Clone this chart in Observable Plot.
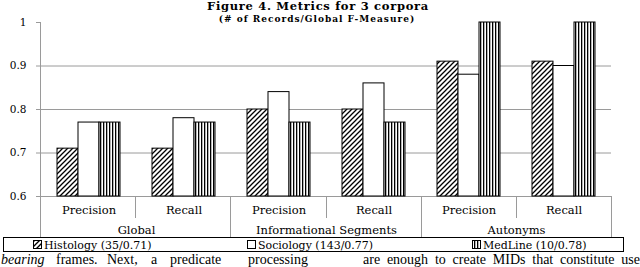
<!DOCTYPE html>
<html><head><meta charset="utf-8">
<script src="https://cdn.jsdelivr.net/npm/d3@7"></script>
<script src="https://cdn.jsdelivr.net/npm/@observablehq/plot@0.6"></script>
<style>body{margin:0;background:#fff} svg{display:block}</style>
</head><body><div id="chart"></div>
<script>
// ---- data ----
const groups = ["Global","Global","Informational Segments","Informational Segments","Autonyms","Autonyms"];
const metrics = ["Precision","Recall","Precision","Recall","Precision","Recall"];
const series = ["Histology","Sociology","MedLine"];
const seriesLabels = ["Histology (35/0.71)","Sociology (143/0.77)","MedLine (10/0.78)"];
const histology = [0.71,0.71,0.80,0.80,0.91,0.91];
const sociology = [0.77,0.78,0.84,0.86,0.88,0.90];
const medline   = [0.77,0.77,0.77,0.77,1.00,1.00];
const yDomain = [0.6, 1];
const yTicks = [0.6,0.7,0.8,0.9,1];
const title = "Figure 4. Metrics for 3 corpora";
const subtitle = "(# of Records/Global F-Measure)";
const pageWordsLeft = ["bearing","frames.","Next,","a","predicate","processing"];
const pageTextRight = "are enough to create MIDs that constitute use";

// ---- build table ----
const keys = groups.map((g,i)=>g+"|"+metrics[i]);
const valuesBySeries = {Histology: histology, Sociology: sociology, MedLine: medline};
const data = keys.flatMap((k,i)=>series.map(s=>({key:k, group:groups[i], metric:metrics[i], series:s, value:valuesBySeries[s][i]})));
const cats = keys.map((k,i)=>({key:k, group:groups[i], metric:metrics[i]}));
const groupCats = cats.filter(d=>d.metric==="Precision");

const W=640, H=267;
const serif = "DejaVu Serif";
const grid = "#9a9a9a";

const chart = Plot.plot({
  width: W, height: H,
  marginLeft: 40, marginRight: 29, marginTop: 22, marginBottom: 71,
  style: {fontFamily: serif, fontSize: "10.5px", background: "white", overflow: "visible"},
  fx: {domain: keys, padding: 0, axis: null, label: null},
  x: {domain: series, paddingInner: 0, paddingOuter: 0.73, axis: null, label: null},
  y: {domain: yDomain, ticks: yTicks, tickFormat: d => d === 1 ? "1" : d.toFixed(1), tickSize: 5, tickPadding: 10, label: null},
  color: {domain: series, range: ["url(#hatchDiag)", "white", "url(#hatchVert)"]},
  marks: [
    Plot.ruleY(yTicks.filter(t => t < yDomain[1]), {stroke: grid, strokeWidth: 1}),
    Plot.barY(data, {fx: "key", x: "series", y1: yDomain[0], y2: "value", fill: "series", stroke: "black", strokeWidth: 1}),
    Plot.text(cats, {fx: "key", text: "metric", frameAnchor: "bottom", lineAnchor: "middle", dy: 14, fontSize: 11.5, fill: "black"}),
    Plot.text(groupCats, {fx: "key", text: "group", frameAnchor: "bottom-right", textAnchor: "middle", lineAnchor: "middle", dy: 34, fontSize: 11.5, fill: "black"})
  ]
});

document.getElementById("chart").appendChild(chart);

const svg = d3.select(chart);
// patterns
const defs = svg.insert("defs", ":first-child");
const pd = defs.append("pattern").attr("id","hatchDiag").attr("patternUnits","userSpaceOnUse").attr("width",5).attr("height",5);
pd.append("rect").attr("width",5).attr("height",5).attr("fill","white");
pd.append("path").attr("d","M-1,1L1,-1M0,5L5,0M4,6L6,4").attr("stroke","black").attr("stroke-width",1.3);
const pv = defs.append("pattern").attr("id","hatchVert").attr("patternUnits","userSpaceOnUse").attr("width",3).attr("height",3);
pv.append("rect").attr("width",3).attr("height",3).attr("fill","white");
pv.append("rect").attr("x",0).attr("width",1.3).attr("height",3).attr("fill","black");

// axis tick color
svg.selectAll("[aria-label='y-axis tick'] path, [aria-label='y-axis tick']").attr("stroke", grid);

// table-like separators from the fx / y scales
const fxs = chart.scale("fx");
const fx = d3.scaleBand(fxs.domain, fxs.range).paddingInner(fxs.paddingInner ?? 0).paddingOuter(fxs.paddingOuter ?? 0).align(fxs.align ?? 0.5);
const ys = chart.scale("y");
const y = d3.scaleLinear(ys.domain, ys.range);
const base = y(yDomain[0]);
const bottomLine = 237.5;
const sep = svg.append("g").attr("stroke", grid).attr("stroke-width", 1);
const x0 = Math.round(Math.min(...fxs.range)) + 0.5;
sep.append("line").attr("x1", x0).attr("x2", x0).attr("y1", y(yDomain[1])).attr("y2", bottomLine);
keys.forEach((k,i)=>{
  const xr = Math.round(fx(k) + fx.bandwidth()) + 0.5;
  const isGroupEnd = i === keys.length-1 || groups[i+1] !== groups[i];
  sep.append("line").attr("x1", xr).attr("x2", xr).attr("y1", base).attr("y2", isGroupEnd ? bottomLine : 218);
});

// title
svg.append("text").attr("x", 318).attr("y", 10).attr("text-anchor","middle")
  .attr("font-family", serif).attr("font-weight","bold").attr("font-size", 11.5).attr("letter-spacing", 0.7).attr("fill","black").text(title);
svg.append("text").attr("x", 317).attr("y", 22).attr("text-anchor","middle")
  .attr("font-family", serif).attr("font-weight","bold").attr("font-size", 9).attr("letter-spacing", 1).attr("fill","black").text(subtitle);

// legend box
const lg = svg.append("g").attr("text-anchor","start");
lg.append("rect").attr("x", 3.5).attr("y", 237.5).attr("width", 620).attr("height", 14).attr("fill","white").attr("stroke","black");
const legendX = [33, 247, 472];
const swFill = ["url(#hatchDiag)", "white", "url(#hatchVert)"];
series.forEach((s,i)=>{
  lg.append("rect").attr("x", legendX[i]+0.5).attr("y", 240.5).attr("width", 8).attr("height", 8).attr("fill", swFill[i]).attr("stroke","black");
  lg.append("text").attr("x", legendX[i]+11).attr("y", 248.5).attr("text-anchor","start").attr("font-family", serif).attr("font-size", 11).attr("fill","black").text(seriesLabels[i]);
});

// surrounding page text
const pt = svg.append("g").attr("font-family","Liberation Serif").attr("font-size", 14).attr("fill","black").attr("text-anchor","start");
const leftX = [1, 56, 107, 151, 170, 248];
pageWordsLeft.forEach((w,i)=>{
  pt.append("text").attr("x", leftX[i]).attr("y", 264).attr("text-anchor","start")
    .attr("font-style", i === 0 ? "italic" : null).text(w);
});
pt.append("text").attr("x", 363).attr("y", 264).attr("text-anchor","start").attr("word-spacing", 3.3).text(pageTextRight);
</script>
</body></html>
